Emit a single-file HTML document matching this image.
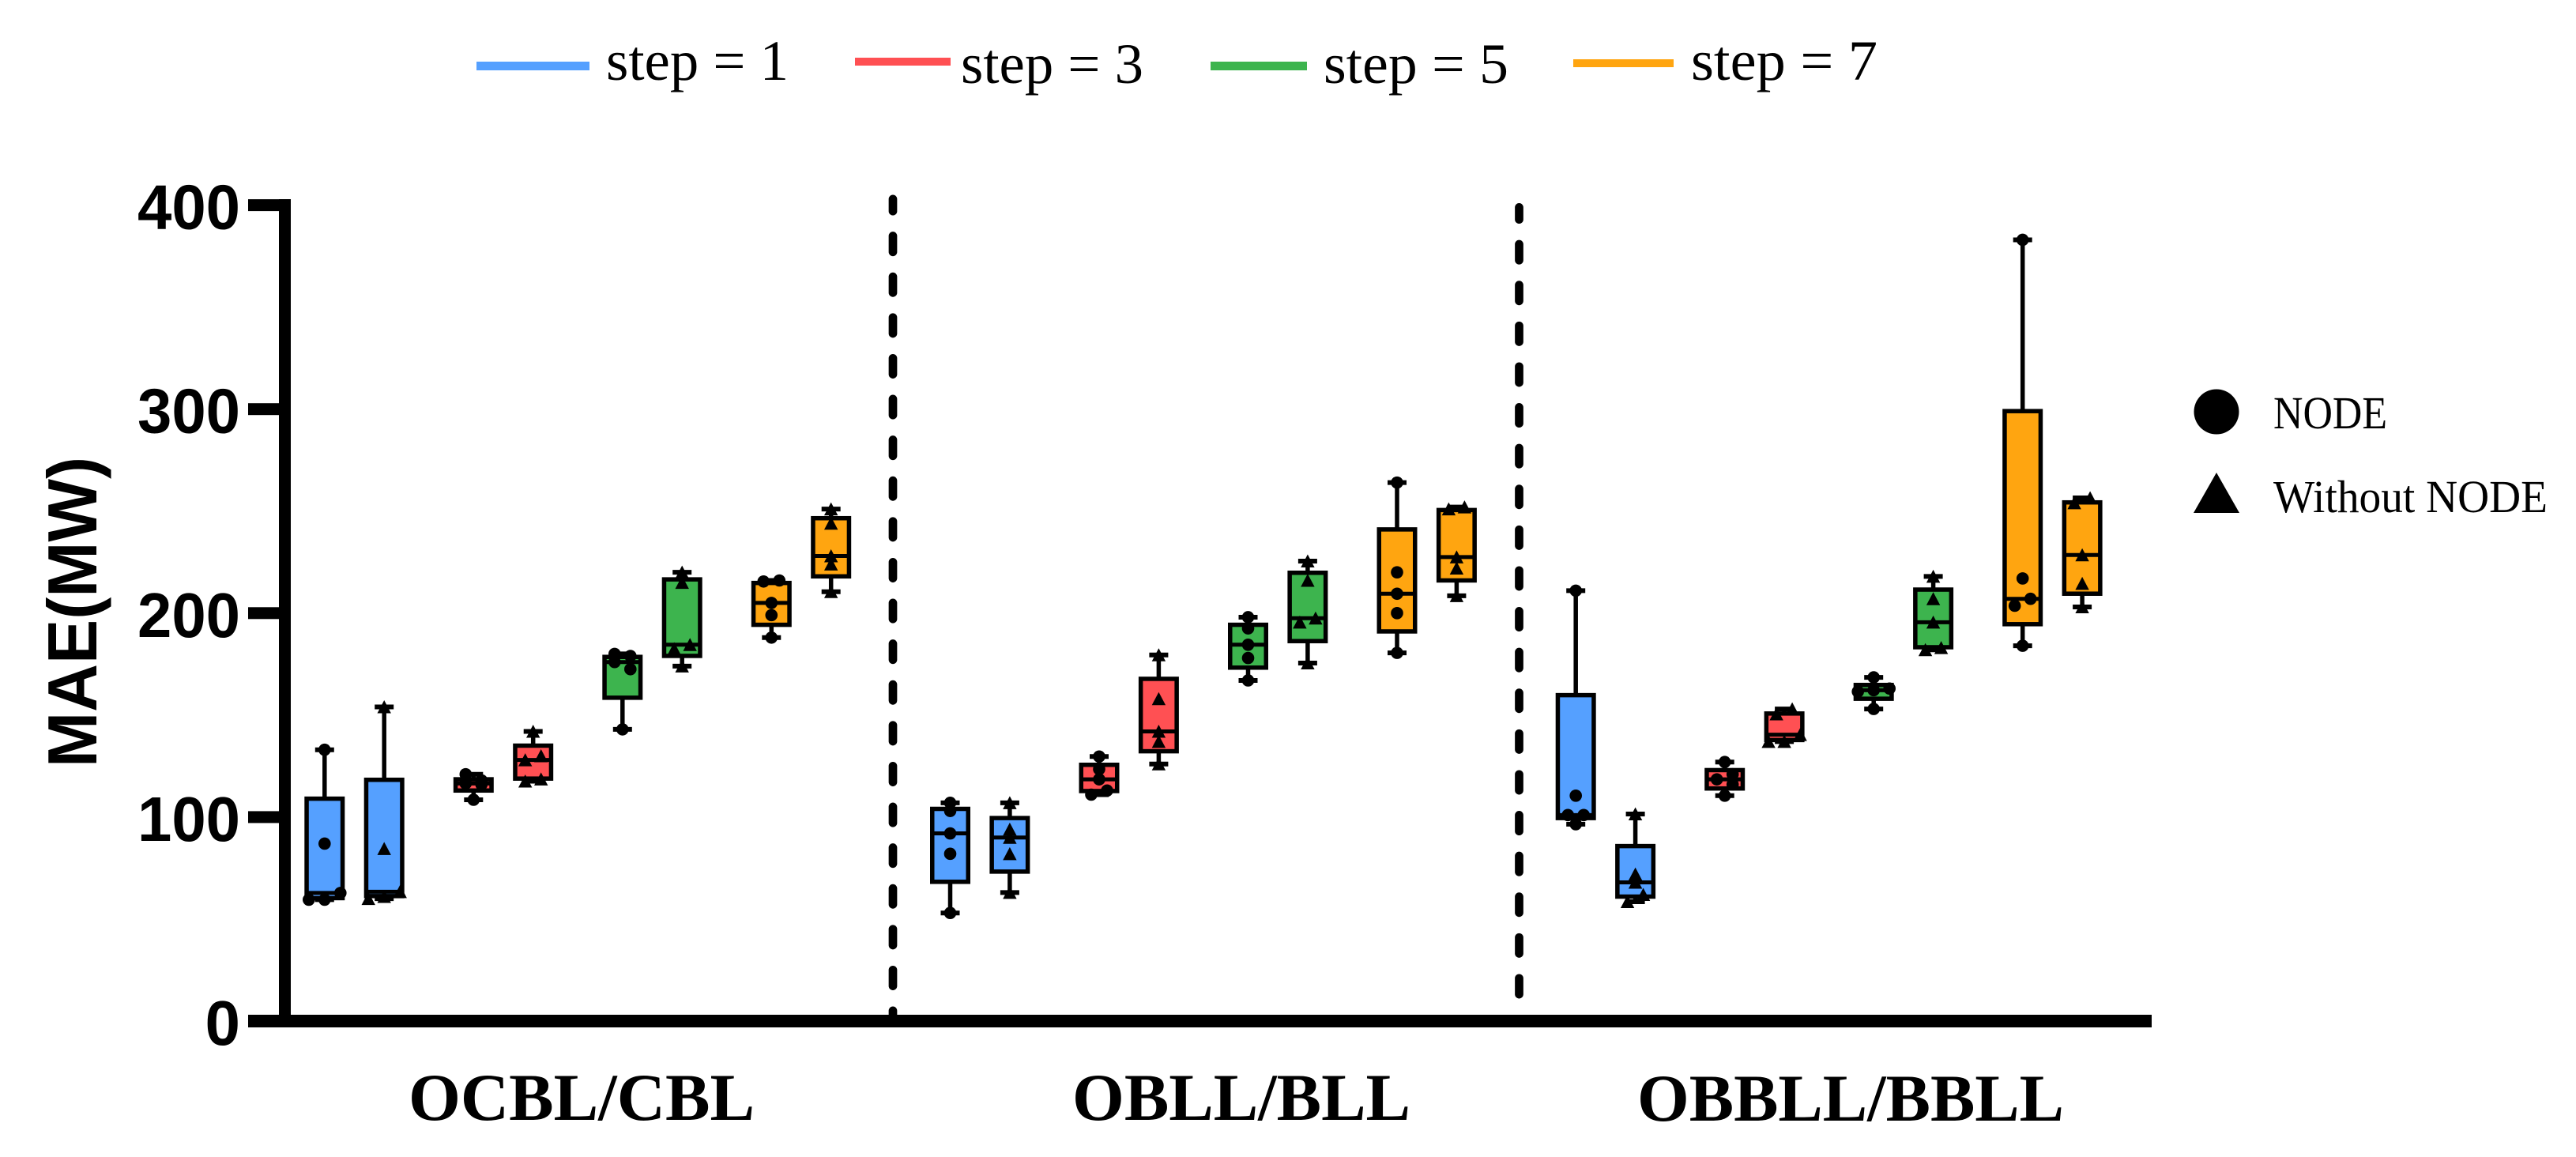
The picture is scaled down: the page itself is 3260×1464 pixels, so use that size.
<!DOCTYPE html>
<html lang="en">
<head>
<meta charset="utf-8">
<title>MAE box plots by step and model</title>
<style>
  html, body { margin: 0; padding: 0; background: #fff; }
  svg { display: block; }
  .step-0 { fill: #55a0ff; }
  .step-1 { fill: #ff5053; }
  .step-2 { fill: #3db44e; }
  .step-3 { fill: #ffa510; }
  .serif { font-family: "Liberation Serif", serif; fill: #000; }
  .sans { font-family: "Liberation Sans", sans-serif; font-weight: bold; fill: #000; }
</style>
</head>
<body>
<svg id="chart" xmlns="http://www.w3.org/2000/svg" width="3260" height="1464" viewBox="0 0 3260 1464">
  <rect x="0" y="0" width="3260" height="1464" fill="#fff"/>

  <g>
    <g>
      <rect class="step-0" x="603" y="78" width="143" height="11"/>
      <text class="serif" x="767" y="101" font-size="72" textLength="231" lengthAdjust="spacingAndGlyphs">step = 1</text>
    </g>
    <g>
      <rect class="step-1" x="1082" y="73" width="121" height="10"/>
      <text class="serif" x="1216" y="105" font-size="72" textLength="231" lengthAdjust="spacingAndGlyphs">step = 3</text>
    </g>
    <g>
      <rect class="step-2" x="1532" y="78" width="122" height="11"/>
      <text class="serif" x="1675" y="105" font-size="72" textLength="234" lengthAdjust="spacingAndGlyphs">step = 5</text>
    </g>
    <g>
      <rect class="step-3" x="1991" y="75" width="127" height="10"/>
      <text class="serif" x="2140" y="101" font-size="72" textLength="236" lengthAdjust="spacingAndGlyphs">step = 7</text>
    </g>
  </g>

  <g>
    <g>
      <circle cx="2805" cy="521" r="28.5" fill="#000"/>
      <text class="serif" x="2877" y="542" font-size="58" textLength="144" lengthAdjust="spacingAndGlyphs">NODE</text>
    </g>
    <g>
      <polygon points="2805,598 2834,649 2776,649" fill="#000"/>
      <text class="serif" x="2877" y="648" font-size="58" textLength="347" lengthAdjust="spacingAndGlyphs">Without NODE</text>
    </g>
  </g>

  <text class="sans" transform="translate(122,971) rotate(-90)" x="0" y="0" font-size="88" textLength="393" lengthAdjust="spacingAndGlyphs">MAE(MW)</text>

  <g id="plot"></g>

  <line x1="1130" y1="251.9" x2="1130" y2="1290" stroke="#000" stroke-width="10.7" stroke-linecap="round" stroke-dasharray="20.3 31.3" stroke-dashoffset="5"/>
  <line x1="1922.5" y1="262.4" x2="1922.5" y2="1290" stroke="#000" stroke-width="10.7" stroke-linecap="round" stroke-dasharray="20.3 31.3" stroke-dashoffset="5"/>

  <rect x="353" y="252" width="15" height="1048" fill="#000"/>
  <rect x="314" y="1284" width="2409" height="16" fill="#000"/>

  <text class="serif" font-weight="bold" x="517" y="1417" font-size="85" textLength="438" lengthAdjust="spacingAndGlyphs">OCBL/CBL</text>
  <text class="serif" font-weight="bold" x="1357" y="1417" font-size="85" textLength="428" lengthAdjust="spacingAndGlyphs">OBLL/BLL</text>
  <text class="serif" font-weight="bold" x="2072" y="1418" font-size="85" textLength="540" lengthAdjust="spacingAndGlyphs">OBBLL/BBLL</text>
</svg>

<script>
// Five observations per box, one list per step (1, 3, 5, 7).
const ocblNode = [
  [59.5, 59.5, 62.8, 87, 133],
  [108.5, 116, 116.5, 118, 121],
  [143, 172.5, 176, 179, 180],
  [188, 199, 205, 215.5, 216]
];
const ocblPlain = [
  [60, 61, 63.4, 84.5, 154],
  [117.6, 118.6, 128, 130, 142],
  [174, 182.5, 184.5, 215, 220],
  [210.5, 224, 228, 244, 251]
];
const obllNode = [
  [53, 82, 92, 103, 107],
  [111, 113, 118.5, 123.5, 129.7],
  [167, 178, 184.5, 192.5, 198],
  [180.5, 200, 209.5, 220, 264]
];
const obllPlain = [
  [63, 82, 90, 94, 107],
  [126, 137, 142, 158, 179.5],
  [175.5, 195.5, 197.5, 216, 225.5],
  [208.5, 222, 227.5, 251, 252]
];
const obbllNode = [
  [96.5, 101, 101, 110.5, 211],
  [110.5, 116, 118.5, 121, 127],
  [153, 161.5, 162.2, 163, 168.5],
  [184, 203.6, 207, 217, 383]
];
const obbllPlain = [
  [58.5, 62, 68, 72, 101.5],
  [137, 137, 140.4, 150.5, 153],
  [182, 183, 195.5, 207, 218],
  [203, 214.5, 228.5, 254, 256.5]
];
const yTickValues = [0, 100, 200, 300, 400];
const yTickLabels = ['0', '100', '200', '300', '400'];
const groupNames = ['ocbl', 'obll', 'obbll'];
const stepNames = ['1', '3', '5', '7'];
const seriesByGroup = [
  [ocblNode, ocblPlain],
  [obllNode, obllPlain],
  [obbllNode, obbllPlain]
];

const SVG_NS = 'http://www.w3.org/2000/svg';
const plot = document.getElementById('plot');
const chart = document.getElementById('chart');

function yScale(v) { return 1292 - v * 2.581; }
function xScale(group, step, method) { return 410.8 + 37.7 * (group * 21 + step * 5 + method * 2); }

function make(tag, attrs, parent) {
  const el = document.createElementNS(SVG_NS, tag);
  for (const key in attrs) el.setAttribute(key, attrs[key]);
  parent.appendChild(el);
  return el;
}

function quartiles(points) {
  const s = points.slice().sort(function (a, b) { return a - b; });
  return {
    min: s[0],
    q1: (s[0] + s[1]) / 2,
    median: s[2],
    q3: (s[3] + s[4]) / 2,
    max: s[4],
    sorted: s
  };
}

// Spread near-equal points sideways, the way a swarm plot does.
function swarmOffsets(sorted) {
  const offsets = [];
  let i = 0;
  while (i < sorted.length) {
    let j = i;
    while (j + 1 < sorted.length && sorted[j + 1] - sorted[j] <= 3.5) j++;
    const size = j - i + 1;
    const span = sorted[j] - sorted[i];
    for (let k = 0; k < size; k++) {
      if (size === 1) offsets.push(0);
      else if (size === 2) offsets.push(k === 0 ? -10 : 10);
      else if (size === 3 && span <= 3.5) offsets.push([-20, 0, 20][k]);
      else offsets.push(k % 2 === 0 ? 10 : -10);
    }
    i = j + 1;
  }
  return offsets;
}

yTickValues.forEach(function (value, index) {
  const tick = make('rect', { x: 314, y: yScale(value) - 7.5, width: 39, height: 15, fill: '#000' }, plot);
  
  
  const labelAttrs = { x: 304, y: yScale(value) + 30, 'text-anchor': 'end', 'font-size': 80, class: 'sans' };
  if (yTickLabels[index].length === 3) {
    labelAttrs.textLength = 130;
    labelAttrs.lengthAdjust = 'spacingAndGlyphs';
  }
  const label = make('text', labelAttrs, plot);
  label.textContent = yTickLabels[index];
  
  
});

seriesByGroup.forEach(function (methods, g) {
  methods.forEach(function (steps, m) {
    steps.forEach(function (points, s) {
      const stats = quartiles(points);
      const cx = xScale(g, s, m);
      const box = make('g', {}, plot);
      
      

      const whisker = make('line', { x1: cx, x2: cx, y1: yScale(stats.max), y2: yScale(stats.min), stroke: '#000', 'stroke-width': 5.5 }, box);
      
      

      [stats.max, stats.min].forEach(function (v) {
        const cap = make('line', { x1: cx - 12, x2: cx + 12, y1: yScale(v), y2: yScale(v), stroke: '#000', 'stroke-width': 6 }, box);
        
        
      });

      const boxTop = yScale(stats.q3) + 2.5;
      const boxBottom = yScale(stats.q1) - 2;
      const rect = make('rect', {
        x: cx - 22.75, width: 45.5,
        y: boxTop, height: boxBottom - boxTop,
        class: 'step-' + s, stroke: '#000', 'stroke-width': 5.5
      }, box);
      
      

      const median = make('line', { x1: cx - 22.75, x2: cx + 22.75, y1: yScale(stats.median), y2: yScale(stats.median), stroke: '#000', 'stroke-width': 5 }, box);
      
      

      const offsets = swarmOffsets(stats.sorted);
      stats.sorted.forEach(function (v, i) {
        const px = cx + offsets[i];
        const py = yScale(v);
        let mark;
        if (m === 0) {
          mark = make('circle', { cx: px, cy: py, r: 7.8, fill: '#000' }, box);
        } else {
          mark = make('polygon', { points: px + ',' + (py - 8.5) + ' ' + (px + 8.7) + ',' + (py + 8) + ' ' + (px - 8.7) + ',' + (py + 8), fill: '#000' }, box);
        }
        
        
      });
    });
  });
});
</script>
</body>
</html>
